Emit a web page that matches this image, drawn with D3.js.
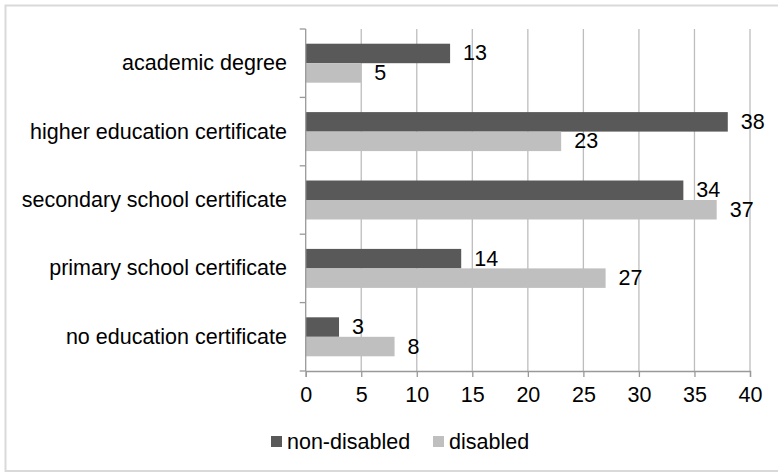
<!DOCTYPE html>
<html>
<head>
<meta charset="utf-8">
<script src="https://cdn.jsdelivr.net/npm/d3@7/dist/d3.min.js"></script>
<style>
  html, body { margin: 0; padding: 0; background: #fff; }
  svg { display: block; font-family: "Liberation Sans", Arial, sans-serif; }
</style>
</head>
<body>
<svg id="chart" width="778" height="473"></svg>
<script>
const categories = [
  "academic degree",
  "higher education certificate",
  "secondary school certificate",
  "primary school certificate",
  "no education certificate"
];
const seriesNames = ["non-disabled", "disabled"];
const nonDisabled = [13, 38, 34, 14, 3];
const disabled = [5, 23, 37, 27, 8];
const xTicks = [0, 5, 10, 15, 20, 25, 30, 35, 40];
const colors = ["#595959", "#bfbfbf"];

(function () {
const svg = d3.select("#chart");

// outer frame
svg.append("rect")
  .attr("x", 5.5).attr("y", 5.5)
  .attr("width", 776).attr("height", 465.5)
  .attr("fill", "#fff").attr("stroke", "#d9d9d9").attr("stroke-width", 2);

const pLeft = 305.7, pRight = 750, pTop = 29, pBottom = 371;

const x = d3.scaleLinear().domain([0, 40]).range([pLeft, pRight]);
const y0 = d3.scaleBand().domain(categories).range([pTop, pBottom]);
const bw = y0.bandwidth();
const y1 = d3.scaleBand().domain(seriesNames).range([bw * 0.215, bw * 0.785]);

const fontSize = 21.5;

// gridlines
svg.append("g").selectAll("line")
  .data(xTicks.slice(1))
  .join("line")
  .attr("x1", d => x(d)).attr("x2", d => x(d))
  .attr("y1", pTop).attr("y2", pBottom)
  .attr("stroke", "#bdbdbd").attr("stroke-width", 1.3);

// bars
const rows = categories.map((c, i) => ({ cat: c, vals: [nonDisabled[i], disabled[i]] }));
const g = svg.append("g");
rows.forEach(r => {
  r.vals.forEach((v, j) => {
    const yy = y0(r.cat) + y1(seriesNames[j]);
    g.append("rect")
      .attr("x", x(0)).attr("y", yy)
      .attr("width", x(v) - x(0)).attr("height", y1.bandwidth())
      .attr("fill", colors[j]);
    g.append("text")
      .attr("x", x(v) + 13).attr("y", yy + y1.bandwidth() / 2)
      .attr("dominant-baseline", "central")
      .attr("font-size", fontSize).attr("fill", "#000")
      .text(v);
  });
});

// x axis
const xAxis = d3.axisBottom(x).tickValues(xTicks).tickSize(6).tickPadding(10);
const xg = svg.append("g").attr("transform", `translate(0,${pBottom})`).call(xAxis);
xg.select(".domain").attr("stroke", "#999").attr("stroke-width", 1.3);
xg.selectAll(".tick line").attr("stroke", "#999").attr("stroke-width", 1.3);
xg.selectAll(".tick text").attr("font-size", fontSize).attr("fill", "#000")
  .attr("font-family", '"Liberation Sans", Arial, sans-serif');

// y axis line and boundary ticks
svg.append("line")
  .attr("x1", pLeft).attr("x2", pLeft).attr("y1", pTop).attr("y2", pBottom)
  .attr("stroke", "#999").attr("stroke-width", 1.3);
const bounds = categories.map(c => y0(c)).concat([pBottom]);
svg.append("g").selectAll("line").data(bounds).join("line")
  .attr("x1", pLeft - 6).attr("x2", pLeft)
  .attr("y1", d => d).attr("y2", d => d)
  .attr("stroke", "#999").attr("stroke-width", 1.3);

// category labels
svg.append("g").selectAll("text").data(categories).join("text")
  .attr("x", 287).attr("y", d => y0(d) + bw / 2)
  .attr("text-anchor", "end").attr("dominant-baseline", "central")
  .attr("font-size", fontSize).attr("fill", "#000")
  .text(d => d);

// legend
const legendItems = [
  { name: seriesNames[0], color: colors[0], sx: 271, tx: 287 },
  { name: seriesNames[1], color: colors[1], sx: 433, tx: 449 }
];
const lg = svg.append("g");
legendItems.forEach(it => {
  lg.append("rect").attr("x", it.sx).attr("y", 436).attr("width", 11).attr("height", 11).attr("fill", it.color);
  lg.append("text").attr("x", it.tx).attr("y", 442)
    .attr("dominant-baseline", "central")
    .attr("font-size", fontSize).attr("fill", "#000").text(it.name);
});
})();
</script>
</body>
</html>
